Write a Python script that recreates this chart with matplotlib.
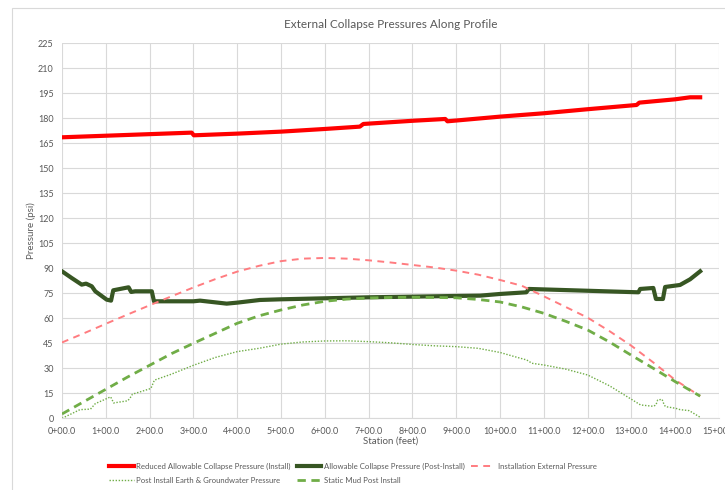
import matplotlib.pyplot as plt
from matplotlib.patches import Rectangle

plt.rcParams['font.family'] = ['Lato', 'DejaVu Sans']

# Reduced allowable collapse pressure during install (psi vs station in feet)
red_sta = [0, 296, 301, 400, 500, 600, 680, 688, 800, 875, 880, 1000, 1099, 1198, 1312, 1318, 1400, 1434, 1457]
red_psi = [168.6, 171.4, 169.8, 170.8, 172.0, 173.6, 175.0, 176.6, 178.5, 179.6, 178.2, 181.0, 183.0, 185.4, 188.0, 189.4, 191.4, 192.6, 192.6]

# Allowable collapse pressure after install
post_sta = [0, 22, 45, 55, 68, 76, 102, 112, 117, 152, 158, 167, 205, 210, 300, 315, 376, 400, 452, 500,
            600, 700, 800, 900, 955, 1000, 1060, 1066, 1316, 1320, 1350, 1356, 1372, 1377, 1411, 1434, 1457]
post_psi = [88.2, 84.2, 80.2, 80.8, 79.2, 76.2, 71.2, 70.6, 76.8, 78.6, 75.8, 76.2, 76.2, 70.2, 70.2, 70.6, 68.8, 69.4, 71.0, 71.4,
            72.0, 72.6, 73.0, 73.4, 73.6, 74.6, 75.6, 77.6, 75.6, 77.6, 78.2, 71.6, 71.6, 78.8, 80.0, 83.4, 88.2]

# Installation external pressure
inst_sta = [0, 50, 100, 150, 200, 250, 300, 350, 400, 450, 500, 550, 600, 650, 700, 750, 800, 850, 900, 950,
            1000, 1050, 1100, 1150, 1200, 1250, 1300, 1350, 1400, 1457]
inst_psi = [45.5, 51.0, 56.7, 62.3, 67.8, 73.2, 78.5, 83.5, 88.0, 91.5, 94.3, 95.8, 96.2, 95.8, 94.8, 93.5, 92.0, 90.5, 88.6, 86.2,
            83.0, 79.5, 73.2, 66.8, 60.4, 52.3, 43.5, 33.5, 23.0, 13.3]

# Post install earth & groundwater pressure
earth_sta = [0, 20, 41, 65, 76, 95, 111, 118, 125, 150, 155, 161, 180, 203, 211, 250, 300, 350, 400, 450, 500, 550,
             600, 650, 700, 750, 800, 850, 900, 950, 1000, 1040, 1061, 1073, 1100, 1150, 1200, 1250, 1300, 1316, 1321,
             1350, 1356, 1360, 1370, 1375, 1378, 1401, 1411, 1432, 1457]
earth_psi = [0.0, 2.5, 5.2, 5.5, 8.8, 11.0, 12.9, 9.2, 9.5, 10.5, 12.0, 14.5, 16.0, 17.9, 22.9, 26.5, 31.8, 36.5, 40.0, 42.0, 44.5, 45.8,
             46.4, 46.5, 46.0, 45.3, 44.3, 43.5, 43.0, 42.0, 39.5, 36.5, 35.0, 33.0, 32.0, 29.5, 26.0, 19.5, 11.4, 8.8, 8.0,
             7.2, 8.0, 11.0, 11.4, 8.0, 7.0, 6.0, 5.2, 4.6, 0.6]

# Static mud pressure post install
mud_sta = [0, 50, 100, 150, 200, 250, 300, 350, 400, 450, 500, 550, 600, 650, 700, 750, 800, 850, 900, 950,
           1000, 1050, 1100, 1150, 1200, 1250, 1300, 1350, 1400, 1457]
mud_psi = [2.6, 10.0, 17.4, 24.8, 31.8, 38.8, 45.0, 51.0, 57.0, 61.5, 65.0, 68.0, 70.2, 71.5, 72.2, 72.5, 72.6, 72.5, 72.3, 71.3,
           69.8, 66.8, 63.0, 58.2, 53.0, 45.8, 37.8, 30.0, 22.0, 13.3]

x_ticks = list(range(0, 1501, 100))
x_labels = [f"{t // 100}+00.0" for t in x_ticks]
y_ticks = list(range(0, 226, 15))

fig = plt.figure(figsize=(7.25, 4.9), dpi=100)
ax = fig.add_axes([62 / 725, 1 - 418.3 / 490, (719 - 62) / 725, (418.3 - 43.3) / 490])

# chart area border
fig.patches.append(Rectangle((12 / 725, -0.01), 1.0, 1 - 8 / 490 + 0.01, transform=fig.transFigure,
                             fill=False, edgecolor='#D9D9D9', linewidth=0.8))

l_red, = ax.plot(red_sta, red_psi, color='#FF0000', lw=3.0, solid_joinstyle='round',
                 label='Reduced Allowable Collapse Pressure (Install)')
l_post, = ax.plot(post_sta, post_psi, color='#375623', lw=3.0, solid_joinstyle='round',
                  label='Allowable Collapse Pressure (Post-Install)')
l_inst, = ax.plot(inst_sta, inst_psi, color='#FF7C80', lw=1.4, dashes=(3.5, 2.8),
                  label='Installation External Pressure')
l_earth, = ax.plot(earth_sta, earth_psi, color='#70AD47', lw=1.0, dashes=(1, 1.2),
                   label='Post Install Earth & Groundwater Pressure')
l_mud, = ax.plot(mud_sta, mud_psi, color='#70AD47', lw=2.0, dashes=(3, 2),
                 label='Static Mud Post Install')

ax.set_xlim(0, 1500)
ax.set_ylim(0, 225)
ax.set_xticks(x_ticks)
ax.set_xticklabels(x_labels)
ax.set_yticks(y_ticks)
ax.tick_params(length=0, labelsize=6.5, labelcolor='#595959', pad=6)
ax.grid(True, color='#D9D9D9', lw=0.8)
ax.set_axisbelow(True)
for side in ['top', 'right', 'left']:
    ax.spines[side].set_visible(False)
ax.spines['bottom'].set_color('#D9D9D9')

ax.set_title('External Collapse Pressures Along Profile', fontsize=8.5, color='#595959', pad=11)
ax.set_xlabel('Station (feet)', fontsize=7, color='#595959', labelpad=1)
ax.set_ylabel('Pressure (psi)', fontsize=7, color='#595959')
ax.yaxis.set_label_coords(-0.04, 0.5)

handles = [l_red, l_earth, l_post, l_mud, l_inst]
fig.legend(handles=handles, labels=[h.get_label() for h in handles], ncol=3,
           loc='center', bbox_to_anchor=(0.487, 0.034), frameon=False, fontsize=5.6,
           labelcolor='#595959', handlelength=3.1, handletextpad=0.35, columnspacing=0.8,
           labelspacing=0.9, borderpad=0)

fig.savefig('out.png', dpi=100)
